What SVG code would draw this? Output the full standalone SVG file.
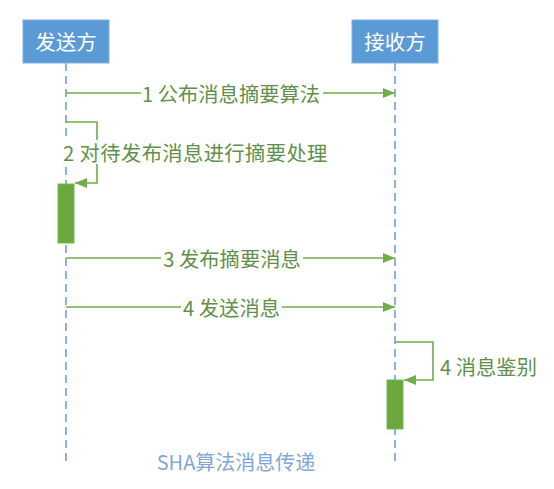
<svg xmlns="http://www.w3.org/2000/svg" width="554" height="489" viewBox="0 0 554 489">
<defs>
<style>
.box{fill:#5B9BD5;stroke:#7FB0E0;stroke-width:1}
.boxt{fill:#ffffff;font-family:"Noto Sans CJK SC","Liberation Sans",sans-serif;font-size:20.5px;text-anchor:middle;dominant-baseline:central}
.life{stroke:#8DB3E2;stroke-width:2;stroke-dasharray:8 5;fill:none}
.msg{stroke:#70AD47;stroke-width:1.6;fill:none}
.lbl{fill:#62904A;font-family:"Noto Sans CJK SC","Liberation Sans",sans-serif;font-size:20.3px;dominant-baseline:central}
.bg{fill:#ffffff}
.act{fill:#6AA83F;stroke:#7DB755;stroke-width:1}
.title{fill:#7FA8D8;font-family:"Noto Sans CJK SC","Liberation Sans",sans-serif;font-size:20px;text-anchor:middle;dominant-baseline:central}
</style>
<marker id="ah" viewBox="0 0 12 10" refX="12" refY="5" markerWidth="12" markerHeight="10" markerUnits="userSpaceOnUse" orient="auto">
<path d="M0,0 L12,5 L0,10 Z" fill="#70AD47"/>
</marker>
</defs>
<rect width="554" height="489" fill="#ffffff"/>

<g id="sender">
<rect class="box" x="23" y="20" width="86" height="43"/>
<text class="boxt" x="66" y="41">发送方</text>
<line class="life" x1="66" y1="63" x2="66" y2="462"/>
</g>
<g id="receiver">
<rect class="box" x="352" y="20" width="86" height="43"/>
<text class="boxt" x="395" y="41">接收方</text>
<line class="life" x1="395" y1="63" x2="395" y2="462"/>
</g>

<g id="connectors">
<line class="msg" x1="66" y1="93" x2="395" y2="93" marker-end="url(#ah)"/>
<polyline class="msg" points="66,122 97,122 97,183 75,183" marker-end="url(#ah)"/>
<line class="msg" x1="66" y1="258" x2="395" y2="258" marker-end="url(#ah)"/>
<line class="msg" x1="66" y1="307" x2="395" y2="307" marker-end="url(#ah)"/>
<polyline class="msg" points="395,342 433,342 433,380 404,380" marker-end="url(#ah)"/>
</g>

<g id="activation-sender">
<rect class="act" x="58" y="184" width="16" height="59"/>
</g>
<g id="activation-receiver">
<rect class="act" x="387" y="380" width="16" height="49"/>
</g>

<g id="label1">
<rect class="bg" x="141" y="82" width="182" height="22"/>
<text class="lbl" x="231" y="93" text-anchor="middle">1 公布消息摘要算法</text>
</g>
<g id="label2">
<rect class="bg" x="61" y="140" width="266" height="24"/>
<text class="lbl" x="63" y="152" letter-spacing="0.4">2 对待发布消息进行摘要处理</text>
</g>
<g id="label3">
<rect class="bg" x="161" y="247" width="142" height="22"/>
<text class="lbl" x="232" y="258" text-anchor="middle">3 发布摘要消息</text>
</g>
<g id="label4">
<rect class="bg" x="181" y="296" width="101" height="22"/>
<text class="lbl" x="231.5" y="307" text-anchor="middle">4 发送消息</text>
</g>
<g id="label5">
<text class="lbl" x="440" y="366">4 消息鉴别</text>
</g>

<text class="title" x="236" y="461">SHA算法消息传递</text>
</svg>
